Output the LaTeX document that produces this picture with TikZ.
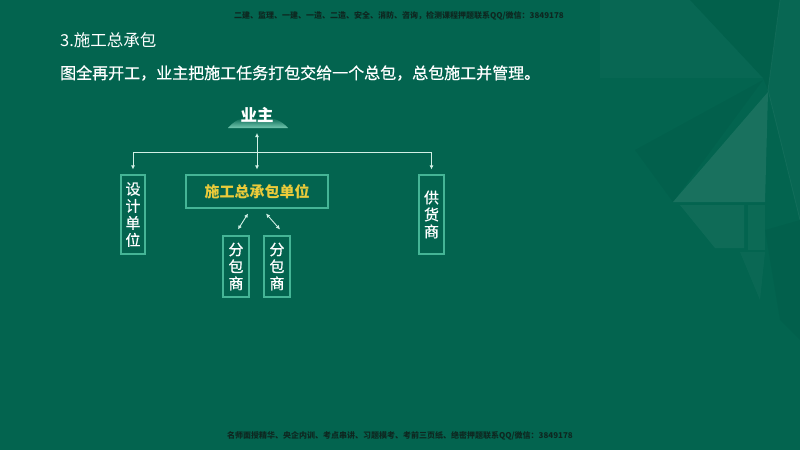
\documentclass[tikz,border=0pt]{standalone}
\usepackage{fontspec}
\newfontfamily\cjk{Noto Sans CJK SC}
\newfontfamily\cjkfb[FakeBold=0.6]{Noto Sans CJK SC}
\usetikzlibrary{arrows.meta,calc}
\definecolor{bg}{HTML}{03644F}
\definecolor{boxline}{HTML}{45B596}
\definecolor{arrowc}{HTML}{D2F0E6}
\definecolor{gold}{HTML}{EBCB3A}
\definecolor{wmark}{HTML}{0E2720}
\tikzset{
  vbox/.style={draw=boxline, line width=1.1pt, inner sep=0pt, text=white,
    font=\fontsize{15}{17}\selectfont\cjkfb, align=center},
  conn/.style={draw=arrowc, line width=0.9pt, arrows={-Latex[length=4pt,width=4pt]}},
  dconn/.style={draw=arrowc, line width=0.9pt, arrows={Latex[length=4pt,width=4pt]-Latex[length=4pt,width=4pt]}},
  wm/.style={text=wmark, font=\fontsize{8}{9}\selectfont\cjk\bfseries, inner sep=0pt},
  lite/.style={fill=white, draw=none},
  dark/.style={fill=black, draw=none}
}
\begin{document}
\begin{tikzpicture}[x=1pt,y=-1pt]
\fill[bg] (0,0) rectangle (800,450);
\useasboundingbox (0,0) rectangle (800,450);
% faint background decoration (right side)
\fill[lite, opacity=0.025] (600,0) -- (690,0) -- (763,78) -- (600,78) -- cycle;
\fill[dark, opacity=0.04] (690,0) -- (780,0) -- (768,90) -- (763,78) -- cycle;
\fill[lite, opacity=0.025] (780,0) -- (800,0) -- (800,220) -- (768,90) -- cycle;
\fill[lite, opacity=0.09] (768,92) -- (673,202) -- (765,202) -- cycle;
\fill[dark, opacity=0.035] (763,80) -- (635,150) -- (673,202) -- cycle;
\fill[lite, opacity=0.05] (680,205) -- (744,205) -- (744,248) -- (715,248) -- cycle;
\fill[lite, opacity=0.04] (748,205) -- (765,205) -- (765,250) -- (748,250) -- cycle;
\fill[lite, opacity=0.03] (740,252) -- (765,252) -- (760,300) -- cycle;
\fill[dark, opacity=0.03] (765,230) -- (800,220) -- (800,340) -- (780,320) -- cycle;
\draw[white, opacity=0.05, line width=0.8pt] (780,0) -- (768,90) -- (800,220);
% watermarks
\node[wm] (wtop) at (399,16) {二建、监理、一建、一造、二造、安全、消防、咨询，检测课程押题联系QQ/微信：3849178};
\node[wm] (wbot) at (400,436) {名师面授精华、央企内训、考点串讲、习题模考、考前三页纸、绝密押题联系QQ/微信：3849178};
% heading
\node[anchor=west, text=white, inner sep=0pt, font=\fontsize{16.5}{18}\selectfont\cjk] (title) at (60,40) {3.施工总承包};
\node[anchor=west, text=white, inner sep=0pt, font=\fontsize{16}{18}\selectfont\cjkfb] (line) at (60,73) {图全再开工，业主把施工任务打包交给一个总包，总包施工并管理。};
% owner dome
\shade[top color=bg, bottom color=boxline!75!white]
  (228,128) .. controls (234,121) and (240,118) .. (248,117.5) -- (266,117.5)
  .. controls (274,118) and (282,121) .. (288,128) -- cycle;
\node[text=white, inner sep=0pt, font=\fontsize{16.5}{18}\selectfont\cjk\bfseries] (yz) at (257,115) {业主};
\coordinate (yzb) at (257,128);
% boxes
\node[vbox, minimum width=24pt, minimum height=79pt] (sj) at (133,214.5) {设\\计\\单\\位};
\node[vbox, minimum width=142pt, minimum height=33pt, text=gold,
      font=\fontsize{15}{17}\selectfont\cjk\bfseries] (zb) at (257,191.5) {施工总承包单位};
\node[vbox, minimum width=25pt, minimum height=79pt] (gh) at (431.5,214.5) {供\\货\\商};
\node[vbox, minimum width=26pt, minimum height=61pt] (fb1) at (236,266.5) {分\\包\\商};
\node[vbox, minimum width=26pt, minimum height=61pt] (fb2) at (277,266.5) {分\\包\\商};
% connectors
\coordinate (bus) at (257,152.5);
\draw[conn, shorten >=5pt] (bus) -| (sj.north);
\draw[conn, shorten >=5pt] (bus) -| (gh.north);
\draw[dconn, shorten <=5pt, shorten >=5pt] (yzb) -- (zb.north);
\draw[dconn] ($(zb.south)+(-9,5)$) -- ($(fb1.north)+(2,-6)$);
\draw[dconn] ($(zb.south)+(9,5)$) -- ($(fb2.north)+(3,-6)$);
\end{tikzpicture}
\end{document}
